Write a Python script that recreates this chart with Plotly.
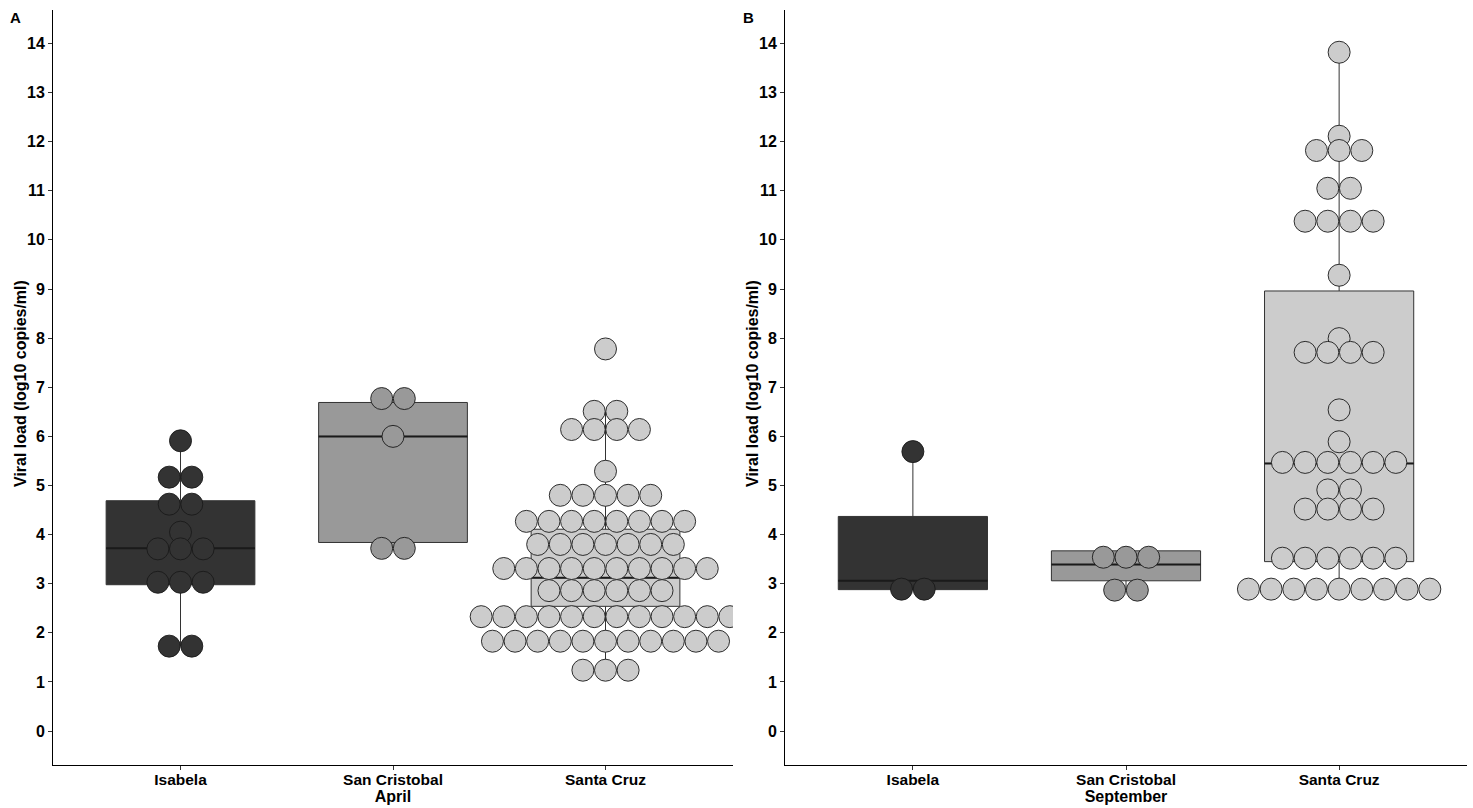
import plotly.graph_objects as go

W, H = 1473, 808
FONT = "Liberation Sans, Arial, sans-serif"

categories = ["Isabela", "San Cristobal", "Santa Cruz"]
fills = ["#333333", "#999999", "#CCCCCC"]

# ---- April: dot rows (bin centre value, number of dots in the row) ----
apr_isabela_y = [5.91, 5.17, 4.62, 4.05, 3.71, 3.03, 1.73]
apr_isabela_n = [1, 2, 2, 1, 3, 3, 2]
apr_sancris_y = [6.77, 6.00, 3.72]
apr_sancris_n = [2, 1, 2]
apr_santacruz_y = [7.78, 6.51, 6.14, 5.29, 4.80, 4.27, 3.80, 3.31, 2.86, 2.33, 1.83, 1.24]
apr_santacruz_n = [1, 2, 4, 1, 5, 8, 7, 10, 6, 12, 11, 3]

# April box statistics
apr_lower = [1.73, 3.72, 1.24]
apr_q1 = [2.98, 3.84, 2.54]
apr_median = [3.72, 6.00, 3.12]
apr_q3 = [4.69, 6.69, 4.11]
apr_upper = [5.91, 6.77, 6.51]

# ---- September ----
sep_isabela_y = [5.69, 2.89]
sep_isabela_n = [1, 2]
sep_sancris_y = [3.54, 2.87]
sep_sancris_n = [3, 2]
sep_santacruz_y = [13.82, 12.11, 11.82, 11.05, 10.38, 9.28, 7.99, 7.71, 6.54, 5.89,
                   5.47, 4.91, 4.52, 3.52, 2.89]
sep_santacruz_n = [1, 1, 3, 2, 4, 1, 1, 4, 1, 1, 6, 2, 4, 6, 9]

sep_lower = [2.88, 2.87, 2.89]
sep_q1 = [2.88, 3.06, 3.45]
sep_median = [3.06, 3.39, 5.45]
sep_q3 = [4.37, 3.67, 8.96]
sep_upper = [5.69, 3.67, 13.82]

y_ticks = list(range(0, 15))

DOT_STEP = 0.1064   # horizontal spacing of stacked dots (x data units)
BOX_WIDTH = 0.7

panels = [
    dict(xa="x", ya="y",
         dots=[(apr_isabela_y, apr_isabela_n), (apr_sancris_y, apr_sancris_n),
               (apr_santacruz_y, apr_santacruz_n)],
         stats=(apr_lower, apr_q1, apr_median, apr_q3, apr_upper)),
    dict(xa="x2", ya="y2",
         dots=[(sep_isabela_y, sep_isabela_n), (sep_sancris_y, sep_sancris_n),
               (sep_santacruz_y, sep_santacruz_n)],
         stats=(sep_lower, sep_q1, sep_median, sep_q3, sep_upper)),
]

fig = go.Figure()

for p in panels:
    lo, q1, med, q3, hi = p["stats"]
    # boxes
    for i, cat in enumerate(categories):
        pos = i + 1
        fig.add_trace(go.Box(
            x=[pos], lowerfence=[lo[i]], q1=[q1[i]], median=[med[i]],
            q3=[q3[i]], upperfence=[hi[i]],
            width=BOX_WIDTH, whiskerwidth=0, boxpoints=False,
            fillcolor=fills[i], line=dict(color="#333333", width=1),
            xaxis=p["xa"], yaxis=p["ya"], showlegend=False, hoverinfo="skip"))
    # thicker median lines
    mx, my = [], []
    for i in range(len(categories)):
        pos = i + 1
        mx += [pos - BOX_WIDTH / 2, pos + BOX_WIDTH / 2, None]
        my += [med[i], med[i], None]
    fig.add_trace(go.Scatter(x=mx, y=my, mode="lines",
                             line=dict(color="#1a1a1a", width=2),
                             xaxis=p["xa"], yaxis=p["ya"], showlegend=False,
                             hoverinfo="skip"))
    # dots (centre-stacked dot plot)
    for i, (ys, ns) in enumerate(p["dots"]):
        pos = i + 1
        dx, dy = [], []
        for yv, n in zip(ys, ns):
            for j in range(n):
                dx.append(pos + (j - (n - 1) / 2) * DOT_STEP)
                dy.append(yv)
        fig.add_trace(go.Scatter(
            x=dx, y=dy, mode="markers",
            marker=dict(size=22, color=fills[i], line=dict(color="#1a1a1a", width=0.9)),
            xaxis=p["xa"], yaxis=p["ya"], showlegend=False, hoverinfo="skip",
            cliponaxis=True))

ydom = [1 - 765 / H, 1 - 10 / H]
xtickfont = dict(family=FONT, size=15.5, color="#000000", weight="bold")
ytickfont = dict(family=FONT, size=16, color="#000000", weight="bold")
titlefont = dict(family=FONT, size=16, color="#000000", weight="bold")

common_x = dict(range=[0.4, 3.6], tickvals=[1, 2, 3], ticktext=categories,
                showgrid=False, zeroline=False, showline=True, linecolor="#000000",
                linewidth=1, ticks="outside", ticklen=4, tickcolor="#333333",
                tickfont=xtickfont, ticklabelstandoff=-4,
                automargin=False, fixedrange=True)
common_y = dict(range=[-0.69, 14.68], tickvals=y_ticks, showgrid=False,
                zeroline=False, showline=True, linecolor="#000000", linewidth=1,
                ticks="outside", ticklen=4, tickcolor="#333333", tickfont=ytickfont,
                automargin=False, fixedrange=True)

fig.update_layout(
    width=W, height=H,
    margin=dict(l=0, r=0, t=0, b=0),
    paper_bgcolor="white", plot_bgcolor="white",
    xaxis=dict(domain=[53 / W, 733 / W], anchor="y",
               title=dict(text="April", font=titlefont, standoff=0), **common_x),
    yaxis=dict(domain=ydom, anchor="x", **common_y),
    xaxis2=dict(domain=[785 / W, 1467 / W], anchor="y2",
                title=dict(text="September", font=titlefont, standoff=0), **common_x),
    yaxis2=dict(domain=ydom, anchor="x2", **common_y),
    annotations=[
        dict(text="Viral load (log10 copies/ml)", textangle=-90, x=20 / W, y=1 - 384 / H,
             xref="paper", yref="paper", showarrow=False, font=titlefont,
             xanchor="center", yanchor="middle"),
        dict(text="Viral load (log10 copies/ml)", textangle=-90, x=752 / W, y=1 - 384 / H,
             xref="paper", yref="paper", showarrow=False, font=titlefont,
             xanchor="center", yanchor="middle"),
        dict(text="A", x=15 / W, y=1 - 17 / H, xref="paper", yref="paper",
             showarrow=False, font=dict(family=FONT, size=15, color="#000", weight="bold"),
             xanchor="center", yanchor="middle"),
        dict(text="B", x=748 / W, y=1 - 17 / H, xref="paper", yref="paper",
             showarrow=False, font=dict(family=FONT, size=15, color="#000", weight="bold"),
             xanchor="center", yanchor="middle"),
    ],
)

fig.write_html("out.html")
